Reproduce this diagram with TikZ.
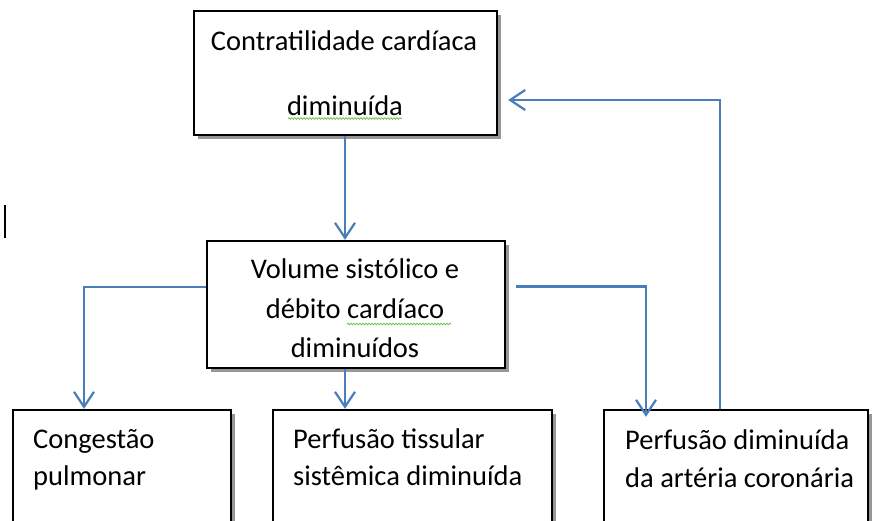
\documentclass[tikz,border=0pt]{standalone}
\usepackage{fontspec}
\setmainfont{Carlito}
\usetikzlibrary{arrows.meta,shadows,decorations.pathmorphing}
\definecolor{arrblue}{HTML}{4A7EBB}
\definecolor{squig}{HTML}{6DBE45}
\tikzset{
  box/.style={draw=black, line width=2.4pt, fill=white, inner sep=0pt,
    drop shadow={shadow xshift=4pt, shadow yshift=-4pt, fill=black!55, opacity=0.75}},
  lbl/.style={anchor=base, inner sep=0pt, font=\fontsize{28.5}{34}\selectfont},
  lbll/.style={anchor=base west, inner sep=0pt, font=\fontsize{28.5}{34}\selectfont},
  arr/.style={draw=arrblue, line width=2.2pt, -{Straight Barb[length=15pt,width=20pt,line width=2.2pt]}},
  wavy/.style={draw=squig, line width=0.7pt, decorate, decoration={snake, amplitude=0.9pt, segment length=3pt}}
}
\begin{document}
\begin{tikzpicture}[x=1pt,y=-1pt]
\useasboundingbox (0,0) rectangle (872,520);
% boxes
\node[box, minimum width=303pt, minimum height=124pt] (top) at (345.5,73) {};
\node[box, minimum width=298pt, minimum height=127pt] (mid) at (356,304.5) {};
\node[box, minimum width=218pt, minimum height=120pt] (b1) at (122,470) {};
\node[box, minimum width=279pt, minimum height=120pt] (b2) at (412.5,470) {};
\node[box, minimum width=264pt, minimum height=120pt] (b3) at (736,470) {};
% texts
\node[lbl] (t1) at (344,50) {Contratilidade cardíaca};
\node[lbl] (t2) at (345,115) {diminuída};
\node[lbl] (m1) at (355,278) {Volume sistólico e};
\node[lbl] (m2) at (355,318) {débito cardíaco};
\node[lbl] (m3) at (355,357) {diminuídos};
\node[lbll] (c1) at (33,448) {Congestão};
\node[lbll] (c2) at (33,485) {pulmonar};
\node[lbll] (p1) at (293,448) {Perfusão tissular};
\node[lbll] (p2) at (293,485) {sistêmica diminuída};
\node[lbll] (q1) at (625,449) {Perfusão diminuída};
\node[lbll] (q2) at (625,487) {da artéria coronária};
% spell-check squiggles
\draw[wavy] (288,118.5) -- (402,118.5);
\draw[wavy] (347,324) -- (451,324);
% cursor mark
\coordinate (cur) at (5,205);
\draw[line width=2pt] (cur) -- ++(0,33);
% connectors
\draw[arr] ([xshift=-0.5pt]top.south) -- ([xshift=-0.5pt]top.south |- mid.north);
\draw[arr] ([yshift=17.5pt]mid.west) -| ([xshift=-38pt]b1.north);
\draw[arr] ([xshift=-11pt]mid.south) -- ([xshift=-11pt]mid.south |- b2.north);
\draw[arr] ([xshift=10pt,yshift=18pt]mid.east) -| ([xshift=-90pt,yshift=-8pt]b3.north);
\draw[arr] ([xshift=-16pt]b3.north) |- ([xshift=10pt,yshift=-27pt]top.east);
\end{tikzpicture}
\end{document}
